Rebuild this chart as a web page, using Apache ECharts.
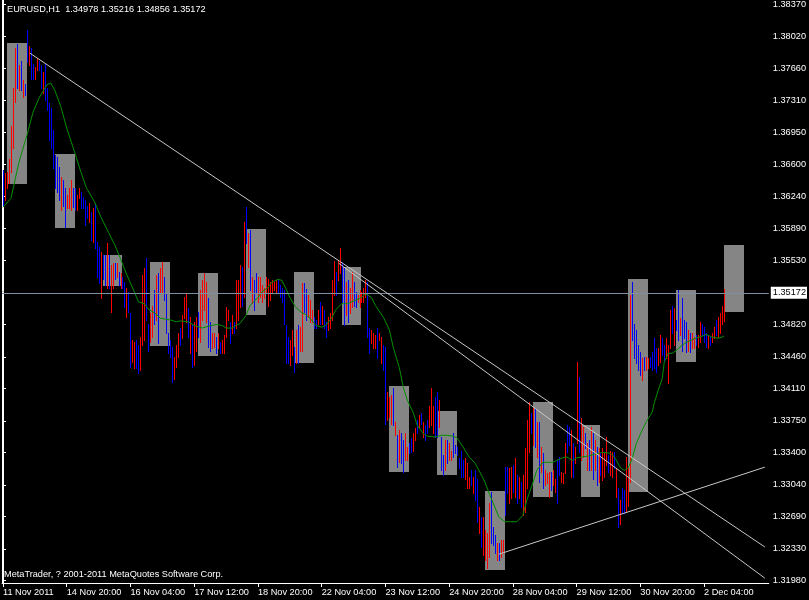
<!DOCTYPE html>
<html><head><meta charset="utf-8">
<script src="https://cdn.jsdelivr.net/npm/echarts@6/dist/echarts.min.js"></script>
<style>html,body{margin:0;padding:0;background:#000}#c{width:809px;height:600px}</style>
</head><body><div id="c"></div>
<script>
const symbolTitle = 'EURUSD,H1  1.34978 1.35216 1.34856 1.35172';
const copyright = 'MetaTrader, ? 2001-2011 MetaQuotes Software Corp.';
const bid = 1.35172;
const xTickHours = [0,32,64,96,128,160,192,224,256,288,320,352];
const xTickLabels = ['11 Nov 2011','14 Nov 20:00','16 Nov 04:00','17 Nov 12:00','18 Nov 20:00','22 Nov 04:00','23 Nov 12:00','24 Nov 20:00','28 Nov 04:00','29 Nov 12:00','30 Nov 20:00','2 Dec 04:00'];
const yTickValues = [1.38370,1.38020,1.37660,1.37310,1.36950,1.36600,1.36240,1.35890,1.35530,1.34820,1.34460,1.34110,1.33750,1.33400,1.33040,1.32690,1.32330,1.31980];

// hourly bars: high, low, direction (r / b)
const barHigh = [
1.3653,1.3650,1.3651,1.3666,1.3702,1.3744,1.3789,1.3793,1.3770,1.3774,
1.3753,1.3749,1.3809,1.3791,1.3789,1.3771,1.3768,1.3778,1.3775,1.3770,
1.3762,1.3772,1.3745,1.3728,1.3722,1.3698,1.3670,1.3668,1.3657,1.3646,
1.3642,1.3633,1.3626,1.3633,1.3642,1.3633,1.3633,1.3626,1.3633,1.3629,
1.3623,1.3620,1.3614,1.3617,1.3607,1.3611,1.3617,1.3573,1.3568,1.3562,
1.3559,1.3559,1.3572,1.3559,1.3548,1.3550,1.3550,1.3550,1.3540,1.3539,
1.3535,1.3529,1.3522,1.3518,1.3495,1.3465,1.3462,1.3465,1.3459,1.3468,
1.3537,1.3545,1.3556,1.3483,1.3495,1.3503,1.3520,1.3537,1.3539,1.3545,
1.3551,1.3535,1.3517,1.3472,1.3465,1.3457,1.3446,1.3459,1.3472,1.3478,
1.3492,1.3512,1.3517,1.3500,1.3490,1.3483,1.3485,1.3490,1.3496,1.3520,
1.3531,1.3539,1.3529,1.3511,1.3485,1.3473,1.3472,1.3468,1.3472,1.3462,
1.3465,1.3470,1.3501,1.3498,1.3485,1.3492,1.3485,1.3531,1.3531,1.3548,
1.3546,1.3596,1.3612,1.3583,1.3587,1.3535,1.3531,1.3539,1.3535,1.3535,
1.3526,1.3523,1.3535,1.3533,1.3529,1.3531,1.3529,1.3531,1.3531,1.3526,
1.3522,1.3520,1.3481,1.3468,1.3465,1.3476,1.3457,1.3476,1.3481,1.3479,
1.3528,1.3528,1.3521,1.3515,1.3509,1.3498,1.3490,1.3487,1.3498,1.3507,
1.3503,1.3498,1.3485,1.3490,1.3495,1.3531,1.3553,1.3540,1.3553,1.3567,
1.3551,1.3545,1.3529,1.3531,1.3522,1.3540,1.3529,1.3518,1.3515,1.3520,
1.3518,1.3523,1.3531,1.3529,1.3478,1.3476,1.3473,1.3470,1.3478,1.3473,
1.3468,1.3459,1.3457,1.3407,1.3401,1.3404,1.3412,1.3374,1.3359,1.3365,
1.3362,1.3354,1.3361,1.3346,1.3350,1.3356,1.3362,1.3367,1.3376,1.3381,
1.3384,1.3374,1.3370,1.3376,1.3392,1.3411,1.3392,1.3401,1.3407,1.3398,
1.3357,1.3337,1.3354,1.3354,1.3350,1.3342,1.3361,1.3348,1.3346,1.3334,
1.3342,1.3331,1.3334,1.3328,1.3313,1.3320,1.3313,1.3320,1.3311,1.3279,
1.3268,1.3268,1.3254,1.3250,1.3284,1.3296,1.3257,1.3248,1.3239,1.3239,
1.3243,1.3243,1.3324,1.3324,1.3323,1.3324,1.3326,1.3334,1.3315,1.3313,
1.3307,1.3315,1.3345,1.3376,1.3396,1.3384,1.3389,1.3389,1.3374,1.3374,
1.3346,1.3339,1.3320,1.3317,1.3318,1.3318,1.3320,1.3311,1.3331,1.3335,
1.3318,1.3317,1.3350,1.3370,1.3368,1.3365,1.3350,1.3346,1.3440,1.3424,
1.3378,1.3368,1.3362,1.3350,1.3354,1.3368,1.3361,1.3354,1.3346,1.3345,
1.3339,1.3345,1.3340,1.3357,1.3337,1.3342,1.3340,1.3340,1.3323,1.3300,
1.3287,1.3301,1.3298,1.3335,1.3323,1.3515,1.3529,1.3483,1.3476,1.3459,
1.3451,1.3445,1.3446,1.3446,1.3445,1.3446,1.3451,1.3467,1.3456,1.3456,
1.3470,1.3467,1.3459,1.3467,1.3459,1.3498,1.3503,1.3500,1.3487,1.3520,
1.3489,1.3511,1.3487,1.3485,1.3476,1.3473,1.3473,1.3468,1.3470,1.3470,
1.3485,1.3483,1.3479,1.3473,1.3470,1.3468,1.3473,1.3479,1.3487,1.3490,
1.3495,1.3503,1.35216];
const barLow = [
1.3614,1.3620,1.3633,1.3639,1.3651,1.3678,1.3729,1.3744,1.3742,1.3742,
1.3734,1.3737,1.3773,1.3770,1.3755,1.3755,1.3755,1.3764,1.3764,1.3745,
1.3739,1.3731,1.3720,1.3687,1.3678,1.3656,1.3633,1.3629,1.3620,1.3609,
1.3614,1.3590,1.3611,1.3611,1.3609,1.3612,1.3609,1.3609,1.3622,1.3611,
1.3611,1.3592,1.3600,1.3596,1.3576,1.3573,1.3567,1.3535,1.3528,1.3511,
1.3533,1.3526,1.3522,1.3522,1.3496,1.3522,1.3533,1.3535,1.3526,1.3522,
1.3522,1.3501,1.3490,1.3496,1.3435,1.3440,1.3434,1.3434,1.3428,1.3431,
1.3459,1.3465,1.3487,1.3453,1.3462,1.3468,1.3483,1.3487,1.3461,1.3517,
1.3518,1.3509,1.3472,1.3450,1.3446,1.3418,1.3422,1.3435,1.3446,1.3459,
1.3467,1.3489,1.3485,1.3468,1.3450,1.3435,1.3437,1.3453,1.3468,1.3462,
1.3487,1.3498,1.3485,1.3457,1.3453,1.3456,1.3457,1.3450,1.3456,1.3450,
1.3450,1.3450,1.3468,1.3487,1.3461,1.3472,1.3472,1.3478,1.3487,1.3501,
1.3503,1.3512,1.3572,1.3546,1.3520,1.3506,1.3498,1.3517,1.3507,1.3512,
1.3507,1.3511,1.3517,1.3503,1.3509,1.3517,1.3520,1.3517,1.3518,1.3512,
1.3507,1.3483,1.3439,1.3439,1.3437,1.3448,1.3429,1.3439,1.3439,1.3453,
1.3453,1.3496,1.3487,1.3490,1.3485,1.3485,1.3478,1.3478,1.3483,1.3483,
1.3483,1.3478,1.3468,1.3476,1.3478,1.3487,1.3515,1.3515,1.3531,1.3539,
1.3507,1.3481,1.3492,1.3485,1.3495,1.3501,1.3503,1.3501,1.3507,1.3501,
1.3507,1.3507,1.3512,1.3468,1.3450,1.3461,1.3456,1.3456,1.3445,1.3465,
1.3439,1.3431,1.3372,1.3376,1.3379,1.3372,1.3370,1.3359,1.3324,1.3329,
1.3328,1.3318,1.3331,1.3331,1.3339,1.3340,1.3342,1.3354,1.3362,1.3368,
1.3372,1.3357,1.3354,1.3362,1.3368,1.3370,1.3361,1.3357,1.3357,1.3368,
1.3320,1.3315,1.3320,1.3328,1.3331,1.3331,1.3335,1.3339,1.3337,1.3323,
1.3313,1.3313,1.3311,1.3301,1.3301,1.3304,1.3295,1.3287,1.3263,1.3251,
1.3235,1.3226,1.3220,1.3212,1.3224,1.3239,1.3237,1.3228,1.3220,1.3220,
1.3224,1.3228,1.3270,1.3295,1.3284,1.3289,1.3296,1.3290,1.3284,1.3289,
1.3279,1.3270,1.3274,1.3301,1.3340,1.3362,1.3348,1.3346,1.3335,1.3307,
1.3318,1.3301,1.3304,1.3306,1.3290,1.3298,1.3304,1.3296,1.3284,1.3315,
1.3307,1.3306,1.3317,1.3340,1.3348,1.3313,1.3313,1.3328,1.3350,1.3340,
1.3331,1.3335,1.3345,1.3320,1.3320,1.3320,1.3311,1.3320,1.3304,1.3307,
1.3315,1.3309,1.3313,1.3326,1.3318,1.3315,1.3313,1.3323,1.3290,1.3257,
1.3261,1.3273,1.3273,1.3274,1.3281,1.3307,1.3465,1.3445,1.3439,1.3431,
1.3426,1.3420,1.3431,1.3431,1.3434,1.3435,1.3431,1.3434,1.3429,1.3437,
1.3440,1.3448,1.3442,1.3445,1.3417,1.3456,1.3473,1.3459,1.3476,1.3465,
1.3470,1.3453,1.3467,1.3451,1.3453,1.3451,1.3456,1.3456,1.3459,1.3457,
1.3462,1.3470,1.3462,1.3457,1.3456,1.3459,1.3462,1.3467,1.3470,1.3468,
1.3472,1.3483,1.34856];
const barDir =
'brrrrrrbrb'+'rbbrbbrrbb'+'rbbbbbbbbr'+'bbrrrbbrrb'+'bbbrbrbbbr'+'bbrbrrbrbr'+
'bbrbbrrbbr'+'rrbbrrbrbr'+'rbbbbbrrrb'+'rrrbrbrrbr'+'rrrbbrrbrb'+'rrrrbrbrrr'+
'brbrbrbbrr'+'rrrrrrrrbb'+'bbbbrrbrbr'+'rbbrrrbbrb'+'rbbrrrrbrr'+'bbrbrrbbrr'+
'rrrbbrrrbr'+'rbbrrrbrbr'+'bbrrbbrrbr'+'brbbrrrbbr'+'bbrbrrbbbb'+'bbrrrbrbbr'+
'brrrrbbbrb'+'rrbbrrbrbr'+'brrrrbrbrb'+'rbrrrbrrbb'+'rrrbbrbrrb'+'rrbrbrbrbr'+
'brrrbrrbrb'+'rbbrrrbbbb'+'brbrrbbbbr'+'rbbrrrbrbb'+'rbbbrbrrbr'+'rbbbrbrrbr'+'rrr';

// daily candle bodies (gray boxes)
const dayOpen  = [1.3638,1.3671,1.3559,1.3551,1.3447,1.3493,1.3540,1.3481,1.3414,1.3386,1.3297,1.3291,1.3370,1.3296,1.3520,1.3496];
const dayClose = [1.3795,1.3589,1.3525,1.3458,1.3539,1.3588,1.3439,1.3546,1.3318,1.3315,1.3209,1.3396,1.3291,1.3532,1.3440,1.3570];

// moving average [bar, value]
const maPoints = [[0,1.3612],[4,1.3622],[8,1.3662],[12,1.3692],[15,1.3717],[18,1.3733],[22,1.3748],[24,1.3750],[26,1.3742],[29,1.3724],
[32,1.3700],[36,1.3673],[39,1.3652],[42,1.3633],[46,1.3618],[49,1.3602],[53,1.3584],[56,1.3571],[59,1.3555],[62,1.3538],
[66,1.3518],[68,1.3507],[71,1.3505],[73,1.3499],[76,1.3495],[79,1.3489],[84,1.3487],[87,1.3485],[89,1.3486],[93,1.3485],
[96,1.3481],[100,1.3478],[103,1.3480],[107,1.3482],[110,1.3481],[112,1.3478],[115,1.3478],[117,1.3481],[119,1.3483],[122,1.3492],
[124,1.3503],[128,1.3512],[130,1.3518],[133,1.3523],[135,1.3529],[138,1.3532],[140,1.3531],[142,1.3522],[144,1.3512],[147,1.3501],
[150,1.3495],[152,1.3493],[155,1.3487],[157,1.3481],[160,1.3479],[162,1.3481],[165,1.3489],[167,1.3498],[170,1.3505],[173,1.3505],
[177,1.3509],[180,1.3512],[182,1.3516],[185,1.3512],[187,1.3503],[191,1.3490],[194,1.3476],[196,1.3456],[199,1.3434],[201,1.3412],
[203,1.3398],[206,1.3384],[208,1.3370],[211,1.3361],[213,1.3358],[217,1.3357],[220,1.3359],[223,1.3359],[226,1.3358],[228,1.3356],
[231,1.3346],[234,1.3335],[237,1.3328],[239,1.3320],[242,1.3307],[244,1.3295],[247,1.3279],[249,1.3268],[252,1.3263],[255,1.3263],
[258,1.3263],[261,1.3270],[263,1.3287],[266,1.3306],[268,1.3320],[271,1.3329],[273,1.3329],[276,1.3329],[278,1.3331],[281,1.3334],
[283,1.3335],[286,1.3331],[288,1.3334],[291,1.3335],[294,1.3336],[297,1.3338],[301,1.3340],[305,1.3339],[307,1.3335],[310,1.3323],
[312,1.3320],[314,1.3323],[316,1.3334],[318,1.3350],[321,1.3365],[323,1.3374],[326,1.3385],[327,1.3395],[329,1.3409],[331,1.3422],
[332,1.3440],[334,1.3450],[336,1.3450],[338,1.3453],[341,1.3459],[343,1.3462],[346,1.3465],[348,1.3467],[351,1.3469],[353,1.3471],
[356,1.3468],[358,1.3467],[360,1.3467],[362,1.3469]];

// trend lines: anchor (bar, price) -> ray end
const trendA = [[13.5,1.37832],[382.5,1.32350]];
const trendB = [[168.5,1.35501],[382.5,1.32004]];
const trendC = [[249,1.32270],[382.5,1.33236]];

const FONT = 'Liberation Sans';
const chart = echarts.init(document.getElementById('c'), null, {renderer:'canvas'});

const barData = barHigh.map((h,i)=>[i,h,barLow[i],barDir[i]==='r'?1:0]);
const boxData = dayOpen.map((o,i)=>[2+24*i,12+24*i,o,dayClose[i]]);

const trendSeries = [trendA,trendB,trendC].map(t=>({
  type:'line', data:t, showSymbol:false, symbol:'none', z:6, silent:true,
  lineStyle:{color:'#c8c8c8', width:1}
}));

chart.setOption({
  animation:false,
  backgroundColor:'#000',
  title:[
    {text:symbolTitle, left:7, top:5, padding:0, textStyle:{color:'#fff', fontSize:9.2, fontWeight:'normal', fontFamily:FONT}},
    {text:copyright, left:4, top:570, padding:0, textStyle:{color:'#fff', fontSize:9.2, fontWeight:'normal', fontFamily:FONT}}
  ],
  grid:{left:2, right:37, top:0, bottom:17, containLabel:false},
  xAxis:{
    type:'value', min:-0.5, max:384.5,
    axisLine:{show:true, lineStyle:{color:'#fff', width:1}},
    axisTick:{show:true, customValues:xTickHours, length:4, lineStyle:{color:'#fff'}},
    axisLabel:{show:true, customValues:xTickHours, formatter:v=>xTickLabels[xTickHours.indexOf(v)] || '',
      align:'left', color:'#fff', fontSize:9.2, fontFamily:FONT, margin:5},
    splitLine:{show:false}
  },
  yAxis:[
    {type:'value', position:'right', min:1.3195, max:1.38422, scale:true,
     axisLine:{show:true, lineStyle:{color:'#fff', width:1}},
     axisTick:{show:true, customValues:yTickValues, length:3, lineStyle:{color:'#fff'}},
     axisLabel:{show:true, customValues:yTickValues, formatter:v=>v.toFixed(5), color:'#fff', fontSize:9.2, fontFamily:FONT, margin:4},
     splitLine:{show:false}},
    {type:'value', position:'left', min:1.3195, max:1.38422, scale:true,
     axisLine:{show:true, lineStyle:{color:'#fff', width:1}},
     axisTick:{show:false}, axisLabel:{show:false}, splitLine:{show:false}}
  ],
  series:[
    {type:'custom', z:1, silent:true, data:boxData, encode:{x:[0,1], y:[2,3]},
     renderItem:(params, api)=>{
       const hi = Math.max(api.value(2), api.value(3)), lo = Math.min(api.value(2), api.value(3));
       const a = api.coord([api.value(0), hi]), b = api.coord([api.value(1), lo]);
       const x0 = Math.round(a[0]), y0 = Math.round(a[1]);
       return {type:'rect', shape:{x:x0, y:y0, width:Math.round(b[0])-x0, height:Math.round(b[1])-y0}, style:{fill:'#858585'}};
     }},
    {type:'line', z:2, data:[[362,bid]], showSymbol:false, symbol:'none', silent:true, lineStyle:{width:0},
     markLine:{silent:true, symbol:['none','none'], animation:false, precision:5,
       data:[{yAxis:bid}],
       lineStyle:{color:'#7f8fa0', width:1, type:'solid'},
       label:{show:true, position:'end', distance:2, formatter:bid.toFixed(5), color:'#000', backgroundColor:'#fff',
         padding:[2,1,1,2], fontSize:9.2, fontFamily:FONT}}},
    {type:'custom', z:3, silent:true, data:barData, encode:{x:0, y:[1,2]},
     renderItem:(params, api)=>{
       const p1 = api.coord([api.value(0), api.value(1)]), p2 = api.coord([api.value(0), api.value(2)]);
       const x = Math.round(p1[0]), y1 = Math.round(p1[1]), y2 = Math.round(p2[1]);
       return {type:'rect', shape:{x:x, y:y1, width:1, height:Math.max(1, y2-y1+1)},
         style:{fill: api.value(3) ? '#ff0000' : '#0000ff'}};
     }},
    {type:'line', z:4, data:maPoints, showSymbol:false, symbol:'none', silent:true,
     lineStyle:{color:'#009000', width:1}},
    ...trendSeries
  ]
});
</script></body></html>
